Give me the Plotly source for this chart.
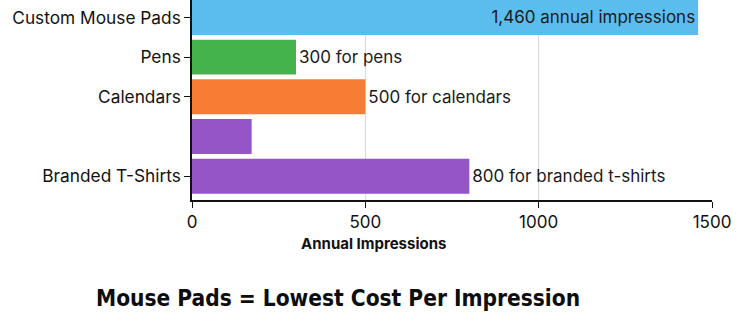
import plotly.graph_objects as go

# Promotional products compared by yearly impressions
categories = ["Custom Mouse Pads", "Pens", "Calendars", " ", "Branded T-Shirts"]
impressions = [1460, 300, 500, 172, 800]
label_suffix = [" annual impressions", " for pens", " for calendars", None, " for branded t-shirts"]
bar_colors = ["#5BBDEE", "#45B34C", "#F97C35", "#9455C6", "#9455C6"]
x_ticks = [0, 500, 1000, 1500]

labels = []
for v, s in zip(impressions, label_suffix):
    labels.append("" if s is None else f"{v:,}{s}")

# the longest bar keeps its label inside so it stays on the canvas
positions = ["inside", "outside", "outside", "none", "outside"]
named = [c for c in categories if c.strip()]

FONT = "Inter, 'Noto Sans', sans-serif"

fig = go.Figure(
    go.Bar(
        x=impressions,
        y=categories,
        orientation="h",
        marker=dict(color=bar_colors, line=dict(width=0)),
        text=labels,
        textposition=positions,
        insidetextanchor="end",
        textfont=dict(family=FONT, size=17, color="#1a1a1a"),
        cliponaxis=False,
        hoverinfo="skip",
    )
)

fig.update_layout(
    width=753,
    height=331,
    margin=dict(l=192, r=41, t=0, b=131),
    paper_bgcolor="white",
    plot_bgcolor="white",
    bargap=0.12,
    showlegend=False,
    font=dict(family=FONT, color="#111111"),
)

fig.update_xaxes(
    range=[0, 1500],
    tickvals=x_ticks,
    ticks="outside",
    ticklen=6,
    tickcolor="#111111",
    tickfont=dict(size=17, color="#111111"),
    showline=True,
    linecolor="#111111",
    linewidth=1.5,
    showgrid=True,
    gridcolor="#d9d9d9",
    gridwidth=1,
    zeroline=False,
)

fig.update_yaxes(
    categoryorder="array",
    categoryarray=categories,
    tickmode="array",
    tickvals=named,
    range=[4.6, -0.44],
    ticks="outside",
    ticklen=6,
    tickcolor="#111111",
    tickfont=dict(size=17.3, color="#111111"),
    showline=True,
    linecolor="#111111",
    linewidth=1.5,
    showgrid=False,
    zeroline=False,
)

fig.add_annotation(
    text="<b>Annual Impressions</b>",
    xref="paper", yref="paper",
    x=(373 - 192) / 520, y=-0.215,
    xanchor="center", yanchor="middle",
    showarrow=False,
    font=dict(family=FONT, size=15, color="#111111"),
)

fig.add_annotation(
    text="<b>Mouse Pads = Lowest Cost Per Impression</b>",
    xref="paper", yref="paper",
    x=(338 - 192) / 520, y=-0.49,
    xanchor="center", yanchor="middle",
    showarrow=False,
    font=dict(family="'DejaVu Sans Condensed', sans-serif", size=22.5, color="#0d0d0d"),
)

fig.write_html("out.html")
